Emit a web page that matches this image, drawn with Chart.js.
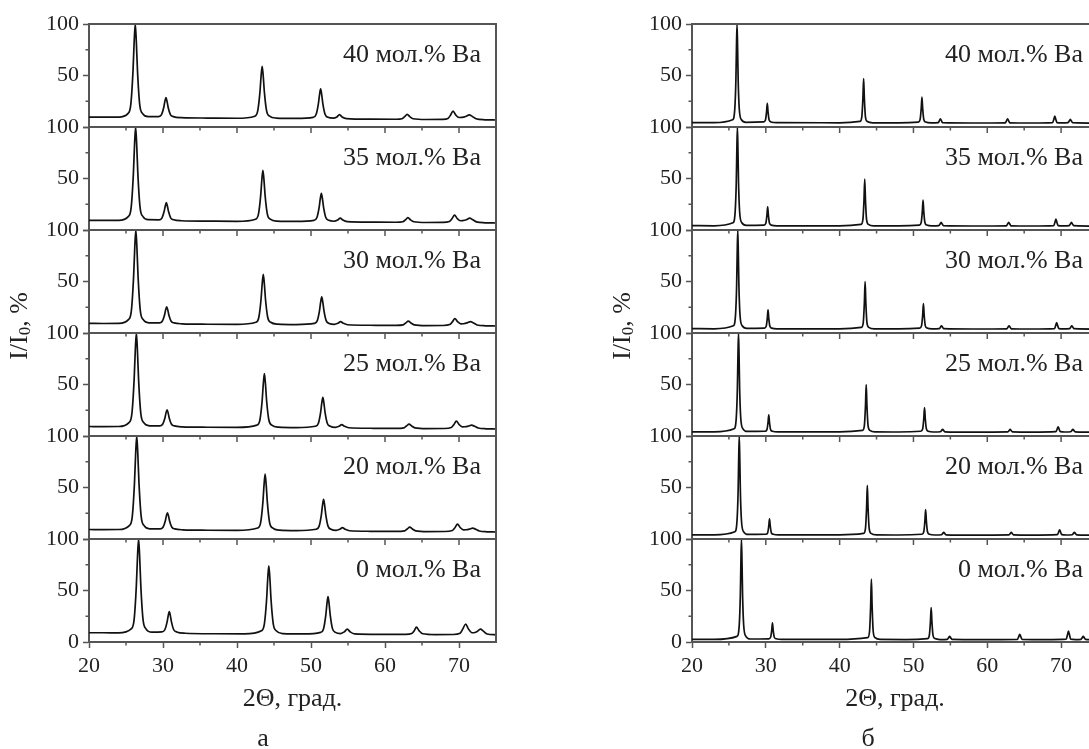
<!DOCTYPE html>
<html><head><meta charset="utf-8">
<script src="https://cdn.jsdelivr.net/npm/chart.js@4.4.1/dist/chart.umd.min.js"></script>
<style>
html,body{margin:0;padding:0;background:#fff;overflow:hidden;width:1089px;height:749px;position:relative;}
#ca{position:absolute;left:0;top:0;}
#cb{position:absolute;left:600px;top:0;}
</style></head><body>
<canvas id="ca" width="543" height="752"></canvas>
<canvas id="cb" width="545" height="752"></canvas>
<script>
// ---------- data ----------
const compositions = ['40 мол.% Ba','35 мол.% Ba','30 мол.% Ba','25 мол.% Ba','20 мол.% Ba','0 мол.% Ba'];
const xTickValues = [20,30,40,50,60,70];
const xMinorValues = [25,35,45,55,65,75];
const yTickValues = [0,50,100];
const yMinorValues = [25,75];
const xTitle = '2Θ, град.';
const captionA = 'а';
const captionB = 'б';

// panel а (broad peaks)
const a40 = [[20,9.6],[22,9.5],[24,9.6],[25.25,13],[25.65,22],[25.95,55],[26.1,82],[26.25,100],[26.4,82],[26.55,55],[26.85,22],[27.25,13],[28,10],
[29.4,10.1],[29.8,12],[30.1,18.9],[30.25,24.7],[30.4,28.5],[30.55,24.7],[30.7,18.9],[31.0,12],[31.4,10.1],[32.5,9.1],
[36,8.7],[40,8.5],
[42.4,10.5],[42.8,15.6],[43.1,33.8],[43.25,48.9],[43.4,59],[43.55,48.9],[43.7,33.8],[44.0,15.6],[44.4,10.5],[45.3,8.7],
[48,8.3],
[50.3,9.4],[50.7,12.3],[51.0,22.7],[51.15,31.3],[51.3,37],[51.45,31.3],[51.6,22.7],[51.9,12.3],[52.3,9.4],[53.0,8.6],
[53.5,9.8],[53.85,12],[54.2,9.8],[54.8,8.2],
[58,7.6],[61.5,7.5],
[62.3,8],[62.65,10],[63.0,12.3],[63.35,10],[63.8,8],[65.5,7.3],
[67.8,7.4],
[68.5,8.3],[68.85,11.5],[69.2,15.5],[69.55,11.8],[70.0,9.2],[70.4,9.3],
[70.9,10.2],[71.4,11.8],[71.8,10.3],[72.3,8],[73.5,7],[75,6.8]];
const a35 = [[20,9.4],[22,9.3],[24,9.4],[25.3,13],[25.7,22],[26.0,55],[26.15,82],[26.3,100],[26.45,82],[26.6,55],[26.9,22],[27.3,13],[28,10],
[29.45,9.9],[29.85,11.6],[30.15,17.9],[30.3,23],[30.45,26.5],[30.6,23],[30.75,17.9],[31.05,11.6],[31.45,9.9],[32.5,9],
[36,8.6],[40,8.4],
[42.5,10.5],[42.9,15.4],[43.2,33.3],[43.35,48.1],[43.5,58],[43.65,48.1],[43.8,33.3],[44.1,15.4],[44.5,10.5],[45.4,8.6],
[48,8.3],
[50.4,9.4],[50.8,12.1],[51.1,21.9],[51.25,30.1],[51.4,35.5],[51.55,30.1],[51.7,21.9],[52.0,12.1],[52.4,9.4],[53.1,8.5],
[53.6,9.6],[53.95,11.5],[54.3,9.6],[54.9,8.1],
[58,7.6],[61.5,7.5],
[62.4,8],[62.75,9.8],[63.1,12],[63.45,9.8],[63.9,8],[65.5,7.3],
[67.8,7.4],
[68.7,8.3],[69.05,11],[69.4,14.5],[69.75,11.2],[70.2,9],[70.5,9.1],
[71.0,10],[71.45,11.5],[71.85,10],[72.35,7.9],[73.5,7],[75,6.8]];
const a30 = [[20,9.3],[22,9.2],[24,9.3],[25.33,13],[25.73,22],[26.03,55],[26.18,82],[26.33,100],[26.48,82],[26.63,55],[26.93,22],[27.33,13],[28.1,9.9],
[29.5,9.8],[29.9,11.4],[30.2,17.3],[30.35,22.2],[30.5,25.5],[30.65,22.2],[30.8,17.3],[31.1,11.4],[31.5,9.8],[32.6,8.9],
[36,8.5],[40,8.4],
[42.55,10.4],[42.95,15.3],[43.25,32.8],[43.4,47.3],[43.55,57],[43.7,47.3],[43.85,32.8],[44.15,15.3],[44.55,10.4],[45.5,8.6],
[48,8.2],
[50.45,9.3],[50.85,12],[51.15,21.7],[51.3,29.7],[51.45,35],[51.6,29.7],[51.75,21.7],[52.05,12],[52.45,9.3],[53.15,8.4],
[53.65,9.5],[54.0,11],[54.35,9.5],[54.95,8],
[58,7.5],[61.5,7.4],
[62.45,7.9],[62.8,9.7],[63.15,11.5],[63.5,9.7],[63.95,7.9],[65.5,7.2],
[67.8,7.3],
[68.75,8.2],[69.1,10.8],[69.45,14],[69.8,11],[70.25,8.9],[70.6,9],
[71.1,9.8],[71.55,11],[71.95,9.8],[72.45,7.8],[73.6,7],[75,6.8]];
const a25 = [[20,9.2],[22,9.1],[24,9.2],[25.4,13],[25.8,22],[26.1,55],[26.25,82],[26.4,100],[26.55,82],[26.7,55],[27.0,22],[27.4,13],[28.2,9.9],
[29.55,9.8],[29.95,11.4],[30.25,17.3],[30.4,22.2],[30.55,25.5],[30.7,22.2],[30.85,17.3],[31.15,11.4],[31.55,9.8],[32.6,8.9],
[36,8.5],[40,8.4],
[42.7,10.6],[43.1,15.8],[43.4,34.5],[43.55,50.1],[43.7,60.5],[43.85,50.1],[44.0,34.5],[44.3,15.8],[44.7,10.6],[45.6,8.6],
[48,8.2],
[50.6,9.5],[51.0,12.4],[51.3,22.9],[51.45,31.7],[51.6,37.5],[51.75,31.7],[51.9,22.9],[52.2,12.4],[52.6,9.5],[53.3,8.4],
[53.8,9.5],[54.15,11],[54.5,9.5],[55.1,8],
[58,7.5],[61.5,7.4],
[62.55,7.9],[62.9,9.7],[63.25,11.5],[63.6,9.7],[64.05,7.9],[65.6,7.2],
[68,7.3],
[68.95,8.2],[69.3,11],[69.65,14.5],[70.0,11.2],[70.45,8.9],[70.8,9],
[71.25,9.6],[71.7,10.5],[72.1,9.5],[72.6,7.8],[73.7,7],[75,6.8]];
const a20 = [[20,9.2],[22,9.1],[24,9.2],[25.45,13],[25.85,22],[26.15,55],[26.3,82],[26.45,100],[26.6,82],[26.75,55],[27.05,22],[27.45,13],[28.2,9.9],
[29.6,9.8],[30.0,11.4],[30.3,17.3],[30.45,22.2],[30.6,25.5],[30.75,22.2],[30.9,17.3],[31.2,11.4],[31.6,9.8],[32.7,8.9],
[36,8.5],[40,8.4],
[42.8,10.7],[43.2,16.1],[43.5,35.8],[43.65,52.1],[43.8,63],[43.95,52.1],[44.1,35.8],[44.4,16.1],[44.8,10.7],[45.7,8.6],
[48,8.2],
[50.7,9.5],[51.1,12.5],[51.4,23.4],[51.55,32.5],[51.7,38.5],[51.85,32.5],[52.0,23.4],[52.3,12.5],[52.7,9.5],[53.4,8.4],
[53.9,9.5],[54.25,11],[54.6,9.5],[55.2,8],
[58,7.5],[61.5,7.4],
[62.65,7.9],[63.0,9.7],[63.35,11.5],[63.7,9.7],[64.15,7.9],[65.7,7.2],
[68,7.3],
[69.1,8.2],[69.45,11],[69.8,14.5],[70.15,11.2],[70.6,8.9],[70.95,9],
[71.4,9.6],[71.85,10.5],[72.25,9.5],[72.75,7.8],[73.8,7],[75,6.8]];
const a0 = [[20,9],[22,9],[24,8.9],[25.7,12.8],[26.1,22],[26.4,55],[26.55,82],[26.7,100],[26.85,82],[27.0,55],[27.3,22],[27.7,12.8],[28.5,9.5],
[29.85,9.8],[30.25,11.9],[30.55,19.3],[30.7,25.4],[30.85,29.5],[31.0,25.4],[31.15,19.3],[31.45,11.9],[31.85,9.8],[33,8.5],
[37,8],[41,7.9],
[43.3,10.9],[43.7,17.5],[44.0,41.2],[44.15,60.9],[44.3,74],[44.45,60.9],[44.6,41.2],[44.9,17.5],[45.3,10.9],[46.2,8.2],
[49,7.8],
[51.3,9.4],[51.7,13],[52.0,26],[52.15,36.8],[52.3,44],[52.45,36.8],[52.6,26],[52.9,13],[53.3,9.4],[54.0,8.2],
[54.5,9.8],[54.9,12.5],[55.3,9.8],[55.9,7.8],
[59,7.4],[62.8,7.4],
[63.6,8.2],[63.95,11],[64.25,14.5],[64.6,11],[65.1,8],[66.8,7.2],
[69.2,7.3],
[70.15,8.5],[70.5,12.5],[70.9,17.5],[71.25,13],[71.75,9],[72.0,9],
[72.4,10],[72.9,12.5],[73.3,10.5],[73.8,7.8],[75,7]];

// panel б (sharp peaks)
const b40 = [[20,4.3],[23,4.2],[25.5,7],[25.8,18],[25.95,47],[26.02,76],[26.1,100],[26.18,76],[26.25,47],[26.4,18],[26.7,7],[27.3,4.5],
[29.7,4.9],[29.95,6.7],[30.1,14.6],[30.2,23],[30.3,14.6],[30.45,6.7],[30.7,4.9],[31.5,4.2],
[40,4.1],
[42.75,5.4],[43.0,9.7],[43.15,27.7],[43.25,47],[43.35,27.7],[43.5,9.7],[43.75,5.4],[44.5,4.1],
[48,4],
[50.65,4.8],[50.9,7.3],[51.05,17.8],[51.15,29],[51.25,17.8],[51.4,7.3],[51.65,4.8],[52.4,4],
[53.35,4.2],[53.5,6],[53.65,8],[53.8,6],[53.95,4.2],
[58,3.9],
[62.45,4.1],[62.6,6],[62.75,8],[62.9,6],[63.05,4.1],
[66,3.9],
[68.85,4.3],[69.0,7],[69.15,10.5],[69.3,7],[69.45,4.3],[70,4],
[70.95,4.2],[71.1,5.8],[71.25,7.5],[71.4,5.8],[71.55,4.2],
[75,3.8]];
const b35 = [[20,4.2],[23,4.1],[25.55,7],[25.85,18],[26.0,47],[26.07,76],[26.15,100],[26.23,76],[26.3,47],[26.45,18],[26.75,7],[27.35,4.5],
[29.75,4.7],[30.0,6.5],[30.15,14.3],[30.25,22.5],[30.35,14.3],[30.5,6.5],[30.75,4.7],[31.5,4.1],
[40,4.1],
[42.9,5.5],[43.15,10],[43.3,29],[43.4,49.5],[43.5,29],[43.65,10],[43.9,5.5],[44.6,4.1],
[48,4],
[50.8,4.8],[51.05,7.3],[51.2,17.8],[51.3,29],[51.4,17.8],[51.55,7.3],[51.8,4.8],[52.5,4],
[53.45,4.2],[53.6,5.8],[53.75,7.5],[53.9,5.8],[54.05,4.2],
[58,3.9],
[62.6,4.1],[62.75,5.8],[62.9,7.5],[63.05,5.8],[63.2,4.1],
[66,3.9],
[69.0,4.3],[69.15,7],[69.3,10.5],[69.45,7],[69.6,4.3],[70.2,4],
[71.1,4.2],[71.25,5.7],[71.4,7.5],[71.55,5.7],[71.7,4.2],
[75,3.8]];
const b30 = [[20,4.2],[23,4.1],[25.6,7],[25.9,18],[26.05,47],[26.12,76],[26.2,100],[26.28,76],[26.35,47],[26.5,18],[26.8,7],[27.4,4.5],
[29.8,4.7],[30.05,6.5],[30.2,14.3],[30.3,22.5],[30.4,14.3],[30.55,6.5],[30.8,4.7],[31.5,4.1],
[40,4.1],
[42.95,5.5],[43.2,10.1],[43.35,29.3],[43.45,50],[43.55,29.3],[43.7,10.1],[43.95,5.5],[44.7,4.1],
[48,4],
[50.85,4.8],[51.1,7.2],[51.25,17.5],[51.35,28.5],[51.45,17.5],[51.6,7.2],[51.85,4.8],[52.5,4],
[53.5,4.2],[53.65,5.5],[53.8,7],[53.95,5.5],[54.1,4.2],
[58,3.9],
[62.65,4.1],[62.8,5.5],[62.95,7],[63.1,5.5],[63.25,4.1],
[66,3.9],
[69.1,4.3],[69.25,6.8],[69.4,10],[69.55,6.8],[69.7,4.3],[70.3,4],
[71.15,4.2],[71.3,5.5],[71.45,7],[71.6,5.5],[71.75,4.2],
[75,3.8]];
const b25 = [[20,4.1],[23,4],[25.7,7],[26.0,18],[26.15,47],[26.22,76],[26.3,100],[26.38,76],[26.45,47],[26.6,18],[26.9,7],[27.5,4.4],
[29.9,4.6],[30.15,6.2],[30.3,13.1],[30.4,20.5],[30.5,13.1],[30.65,6.2],[30.9,4.6],[31.6,4],
[40,4],
[43.1,5.4],[43.35,10],[43.5,29.3],[43.6,50],[43.7,29.3],[43.85,10],[44.1,5.4],[44.8,4],
[48,3.9],
[51.0,4.6],[51.25,7],[51.4,17],[51.5,27.5],[51.6,17],[51.75,7],[52.0,4.6],[52.7,3.9],
[53.65,4.1],[53.8,5.2],[53.95,6.5],[54.1,5.2],[54.25,4.1],
[58,3.8],
[62.8,4],[62.95,5.2],[63.1,6.5],[63.25,5.2],[63.4,4],
[66,3.8],
[69.3,4.2],[69.45,6.3],[69.6,9],[69.75,6.3],[69.9,4.2],[70.5,3.9],
[71.3,4.1],[71.45,5.2],[71.6,6.5],[71.75,5.2],[71.9,4.1],
[75,3.7]];
const b20 = [[20,4.1],[23,4],[25.8,7],[26.1,18],[26.25,47],[26.32,76],[26.4,100],[26.48,76],[26.55,47],[26.7,18],[27.0,7],[27.6,4.4],
[30.0,4.6],[30.25,6],[30.4,12.7],[30.5,19.5],[30.6,12.7],[30.75,6],[31.0,4.6],[31.7,4],
[40,4],
[43.25,5.4],[43.5,10.3],[43.65,30.4],[43.75,52],[43.85,30.4],[44.0,10.3],[44.25,5.4],[45.0,4],
[48,3.9],
[51.15,4.6],[51.4,7.1],[51.55,17.5],[51.65,28.5],[51.75,17.5],[51.9,7.1],[52.15,4.6],[52.9,3.9],
[53.8,4.1],[53.95,5.2],[54.1,6.5],[54.25,5.2],[54.4,4.1],
[58,3.8],
[62.95,4],[63.1,5.2],[63.25,6.5],[63.4,5.2],[63.55,4],
[66,3.8],
[69.5,4.2],[69.65,6.3],[69.8,9],[69.95,6.3],[70.1,4.2],[70.7,3.9],
[71.5,4.1],[71.65,5.2],[71.8,6.5],[71.95,5.2],[72.1,4.1],
[75,3.7]];
const b0 = [[20,2.6],[23,2.5],[26.1,5.5],[26.4,16.5],[26.55,46],[26.62,75.5],[26.7,100],[26.78,75.5],[26.85,46],[27.0,16.5],[27.3,5.5],[27.9,2.9],
[30.4,3.1],[30.65,4.6],[30.8,11.3],[30.9,18.5],[31.0,11.3],[31.15,4.6],[31.4,3.1],[32.2,2.5],
[40,2.5],
[43.8,4.2],[44.05,10.2],[44.2,34.7],[44.3,61],[44.4,34.7],[44.55,10.2],[44.8,4.2],[45.5,2.5],
[49,2.4],
[51.9,3.3],[52.15,6.5],[52.3,19.6],[52.4,33.5],[52.5,19.6],[52.65,6.5],[52.9,3.3],[53.6,2.4],
[54.6,2.6],[54.75,4],[54.9,5.5],[55.05,4],[55.2,2.6],
[59,2.4],
[64.1,2.6],[64.25,5],[64.4,7.5],[64.55,5],[64.7,2.6],
[68,2.4],
[70.7,2.8],[70.85,6.5],[71.0,10.5],[71.15,6.5],[71.3,2.8],[72,2.4],
[72.7,2.6],[72.85,4],[73.0,5.5],[73.15,4],[73.3,2.6],
[75,2.3]];

// ---------- styling ----------
const FONT = "'Liberation Serif','Times New Roman',serif";
const AXC = '#555';
const TXT = '#222';
const AXIS_IDS = ['y40','y35','y30','y25','y20','y0']; // top -> bottom

const framePlugin = {
  id: 'frame',
  afterDatasetsDraw(chart) {
    const {ctx, chartArea: ca, scales} = chart;
    const xs = scales.x;
    ctx.save();
    ctx.strokeStyle = AXC;
    ctx.lineWidth = 2;
    ctx.beginPath();
    ctx.moveTo(ca.left, ca.top); ctx.lineTo(ca.right, ca.top); ctx.lineTo(ca.right, ca.bottom);
    ctx.stroke();
    AXIS_IDS.forEach((id, i) => {
      const ys = scales[id];
      const yb = ys.getPixelForValue(0);
      ctx.strokeStyle = AXC;
      if (i < AXIS_IDS.length - 1) {
        ctx.lineWidth = 2;
        ctx.beginPath(); ctx.moveTo(ca.left, yb); ctx.lineTo(ca.right, yb); ctx.stroke();
        ctx.lineWidth = 1.5;
        ctx.beginPath();
        xTickValues.forEach(v => { const px = xs.getPixelForValue(v); ctx.moveTo(px, yb); ctx.lineTo(px, yb + 6); });
        xMinorValues.forEach(v => { const px = xs.getPixelForValue(v); if (px < ca.right - 1) { ctx.moveTo(px, yb); ctx.lineTo(px, yb + 3.5); } });
        ctx.stroke();
      }
      ctx.lineWidth = 1.5;
      ctx.beginPath();
      yMinorValues.forEach(v => { const py = ys.getPixelForValue(v); ctx.moveTo(ca.left, py); ctx.lineTo(ca.left - 3.5, py); });
      ctx.stroke();
      ctx.fillStyle = TXT;
      ctx.font = `26px ${FONT}`;
      ctx.textAlign = 'right';
      ctx.textBaseline = 'middle';
      ctx.fillText(compositions[i], ca.right - 15, ys.getPixelForValue(70));
    });
    ctx.lineWidth = 1.5;
    ctx.beginPath();
    xMinorValues.forEach(v => { const px = xs.getPixelForValue(v); if (px < ca.right - 1) { ctx.moveTo(px, ca.bottom); ctx.lineTo(px, ca.bottom + 3.5); } });
    ctx.stroke();
    // y title with subscript
    ctx.translate(ca.left - 69, (ca.top + ca.bottom) / 2 - 7);
    ctx.rotate(-Math.PI / 2);
    ctx.fillStyle = TXT;
    ctx.textAlign = 'left';
    ctx.textBaseline = 'middle';
    const big = `26px ${FONT}`, small = `17px ${FONT}`;
    ctx.font = big; const w1 = ctx.measureText('I/I').width; const w3 = ctx.measureText(', %').width;
    ctx.font = small; const w2 = ctx.measureText('0').width;
    let x = -(w1 + w2 + w3) / 2;
    ctx.font = big; ctx.fillText('I/I', x, 0); x += w1;
    ctx.font = small; ctx.fillText('0', x, 6); x += w2;
    ctx.font = big; ctx.fillText(', %', x, 0);
    ctx.restore();
  }
};

function makeChart(canvasId, seriesList, caption, padLeft, yWidth, padRight) {
  const scales = {
    x: {
      type: 'linear', position: 'bottom', min: 20, max: 75,
      afterFit: s => { s.height = 70; },
      grid: { drawOnChartArea: false, drawTicks: true, tickLength: 6, tickColor: AXC, tickWidth: 1.5 },
      border: { color: AXC, width: 2 },
      ticks: { stepSize: 10, includeBounds: false, autoSkip: false, maxRotation: 0, color: TXT, padding: 5,
               font: { family: FONT, size: 22 } },
      title: { display: true, text: xTitle, color: TXT, font: { family: FONT, size: 26, lineHeight: 1 }, padding: { top: 0, bottom: 0 } }
    }
  };
  for (let i = AXIS_IDS.length - 1; i >= 0; i--) {
    const isBottom = i === AXIS_IDS.length - 1;
    scales[AXIS_IDS[i]] = {
      type: 'linear', position: 'left', stack: 'panel', stackWeight: 1, min: 0, max: 100,
      afterFit: s => { s.width = yWidth; },
      grid: { drawOnChartArea: false, drawTicks: true, tickLength: 6, tickColor: AXC, tickWidth: 1.5 },
      border: { color: AXC, width: 2 },
      ticks: { stepSize: 50, autoSkip: false, color: TXT, padding: 4, font: { family: FONT, size: 22 },
               callback: v => (v === 0 && !isBottom) ? '' : String(v) }
    };
  }
  return new Chart(document.getElementById(canvasId), {
    type: 'line',
    data: {
      datasets: seriesList.map((d, i) => ({
        label: compositions[i], data: d, yAxisID: AXIS_IDS[i], xAxisID: 'x',
        borderColor: '#111', borderWidth: 1.7, pointRadius: 0, fill: false,
        cubicInterpolationMode: 'monotone'
      }))
    },
    options: {
      responsive: false, animation: false,
      layout: { padding: { left: padLeft, right: padRight, top: 24, bottom: 0 } },
      scales,
      plugins: {
        legend: { display: false },
        tooltip: { enabled: false },
        title: { display: true, text: caption, position: 'bottom', color: TXT,
                 font: { family: FONT, size: 26, weight: 'normal', lineHeight: 1 }, padding: { top: 14, bottom: 0 } }
      }
    },
    plugins: [framePlugin]
  });
}

makeChart('ca', [a40, a35, a30, a25, a20, a0], captionA, 30, 59, 47);
makeChart('cb', [b40, b35, b30, b25, b20, b0], captionB, 38, 54, 47);
</script>
</body></html>
